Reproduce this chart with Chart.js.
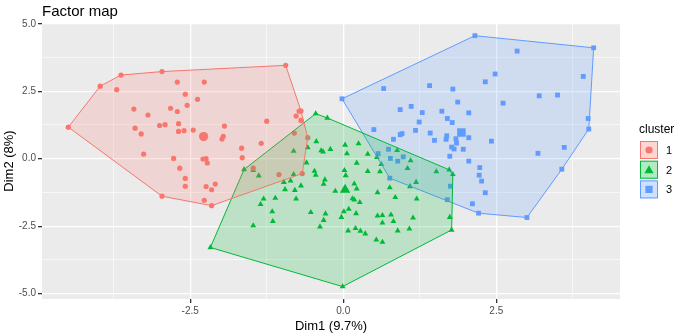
<!DOCTYPE html>
<html lang="en">
<head>
<meta charset="UTF-8">
<title>Factor map</title>
<script src="https://cdn.jsdelivr.net/npm/chart.js"></script>
<style>
  html, body { margin: 0; padding: 0; background: #fff; }
</style>
</head>
<body>
<canvas id="factorMap" width="680" height="336"></canvas>
<script>
  // cluster labels and ggplot default hues
  const clusterNames = ['1', '2', '3'];
  const clusterColors = ['#F8766D', '#00BA38', '#619CFF'];
  const clusterShapes = ['circle', 'triangle', 'rect'];

  // individuals, [Dim1, Dim2]
  const cluster1 = [
    [-4.49, 1.17], [-3.97, 2.69], [-3.63, 3.10], [-2.96, 3.23], [-3.70, 2.56], [-2.71, 2.84],
    [-2.27, 2.84], [-2.58, 2.39], [-2.38, 2.20], [-2.55, 1.98], [-3.42, 1.84], [-3.19, 1.62],
    [-2.82, 1.87], [-2.71, 1.75], [-3.40, 1.13], [-3.30, 0.92], [-3.00, 1.23], [-2.91, 1.26],
    [-2.69, 1.30], [-2.69, 1.01], [-2.60, 1.04], [-2.45, 1.06], [-1.94, 1.21], [-1.96, 0.83],
    [-1.98, 0.73], [-3.26, 0.17], [-2.77, 0.01], [-2.29, -0.01], [-2.24, 0.00], [-2.22, -0.16],
    [-2.67, -0.35], [-2.58, -0.73], [-2.58, -1.02], [-2.24, -1.03], [-2.15, -1.15], [-2.09, -0.94],
    [-2.96, -1.39], [-2.27, -1.54], [-2.15, -1.74], [-0.94, 3.46], [-1.25, 1.39], [-0.72, 1.76],
    [-0.69, 1.77], [-0.77, 1.58], [-0.69, 1.42], [-1.34, 0.57], [-0.80, 0.95], [-0.58, 0.78],
    [-1.66, 0.39], [-1.65, 0.04], [-1.47, -0.35], [-1.05, -0.59], [-0.67, -0.55]
  ];
  const cluster2 = [
    [-0.45, 1.67], [-0.26, 1.51], [-0.44, 0.64], [-0.58, 0.41], [-0.81, 0.28], [-0.36, 0.30],
    [-0.33, 0.26], [-0.21, 0.35], [-0.60, -0.15], [-0.47, -0.46], [-0.45, -0.61], [-0.30, -0.78],
    [-0.32, -0.94], [-0.13, -1.20], [-0.81, -0.58], [-1.62, -0.40], [-1.47, -0.43], [-1.38, -0.63],
    [-0.97, -0.87], [-0.86, -0.82], [-0.69, -1.00], [-0.95, -1.14], [-0.79, -1.17], [-1.30, -1.49],
    [-1.11, -1.46], [-0.77, -1.49], [-1.35, -1.69], [-1.16, -1.96], [-0.53, -1.99], [-0.29, -2.04],
    [-1.15, -2.32], [-0.32, -2.28], [-1.47, -2.48], [-0.38, -2.52], [-2.17, -3.29], [0.03, 0.51],
    [0.25, 0.56], [0.06, 0.19], [0.40, 0.17], [0.55, 0.05], [0.22, -0.16], [0.62, -0.21],
    [0.40, -0.47], [0.60, -0.48], [0.02, -0.43], [0.04, -0.62], [0.18, -0.93], [0.22, -1.12],
    [0.15, -1.48], [0.18, -1.52], [0.27, -1.62], [0.09, -1.87], [0.01, -1.96], [-0.03, -2.17],
    [0.21, -2.03], [0.08, -2.67], [0.20, -2.58], [0.28, -2.68], [0.36, -2.78], [0.54, -3.01],
    [0.64, -3.09], [0.56, -2.12], [0.64, -2.10], [0.78, -2.08], [0.64, -2.38], [0.82, -2.32],
    [0.89, -2.67], [1.08, -2.60], [1.14, -2.19], [0.56, -1.25], [0.76, -1.07], [0.85, -1.43],
    [1.20, -1.49], [1.10, -0.07], [1.05, -0.36], [1.19, -0.87], [1.09, -1.03], [1.52, -0.48],
    [1.73, -0.41], [1.79, -0.58], [1.74, -2.17], [1.77, -2.64], [-0.01, -4.74], [0.88, 0.31]
  ];
  const cluster3 = [
    [-0.02, 2.22], [0.66, 2.60], [1.41, 2.71], [1.79, 2.58], [1.87, 2.10], [0.93, 1.82],
    [1.11, 1.94], [1.29, 1.71], [1.61, 1.76], [1.70, 1.49], [1.78, 1.34], [1.24, 1.36],
    [2.05, 1.70], [0.50, 1.08], [1.18, 1.05], [1.42, 0.95], [0.93, 0.89], [0.96, 0.93],
    [0.82, 0.72], [1.49, 0.68], [1.69, 0.85], [1.68, 0.72], [1.84, 0.74], [1.85, 0.58],
    [2.05, 0.78], [1.77, 0.43], [1.81, 0.36], [1.96, 0.35], [1.74, 0.09], [2.05, -0.09],
    [0.74, 0.35], [0.57, 0.19], [0.77, 0.01], [0.98, 0.07], [0.89, -0.09], [0.76, -0.72],
    [1.75, -1.02], [1.70, -1.52], [2.15, 4.56], [4.09, 4.11], [2.84, 3.99], [2.48, 3.14],
    [2.32, 2.85], [3.92, 3.05], [3.20, 2.33], [3.50, 2.36], [2.61, 2.06], [4.00, 1.49],
    [4.01, 1.10], [2.42, 0.65], [3.61, 0.42], [3.18, 0.20], [2.23, -0.33], [2.22, -0.61],
    [2.26, -0.83], [2.32, -1.26], [3.57, -0.39], [2.11, -1.67], [2.21, -2.02], [3.00, -2.18]
  ];
  const clusterCenters = [[-2.28, 0.82], [0.03, -1.15], [1.93, 0.97]];

  const xMajorTicks = [-2.5, 0, 2.5];
  const yMajorTicks = [-5, -2.5, 0, 2.5, 5];
  const xRange = [-4.92, 4.52];
  const yRange = [-5.2, 5.03];

  const clusters = [cluster1, cluster2, cluster3];

  function hexAlpha(hex, a) {
    const n = parseInt(hex.slice(1), 16);
    return 'rgba(' + (n >> 16) + ',' + ((n >> 8) & 255) + ',' + (n & 255) + ',' + a + ')';
  }

  // convex hull (monotone chain), closed
  function chull(pts) {
    const p = pts.slice().sort((a, b) => a[0] - b[0] || a[1] - b[1]);
    const cross = (o, a, b) => (a[0] - o[0]) * (b[1] - o[1]) - (a[1] - o[1]) * (b[0] - o[0]);
    const lower = [], upper = [];
    for (const q of p) {
      while (lower.length >= 2 && cross(lower[lower.length - 2], lower[lower.length - 1], q) <= 0) lower.pop();
      lower.push(q);
    }
    for (const q of p.slice().reverse()) {
      while (upper.length >= 2 && cross(upper[upper.length - 2], upper[upper.length - 1], q) <= 0) upper.pop();
      upper.push(q);
    }
    lower.pop(); upper.pop();
    const h = lower.concat(upper);
    h.push(h[0]);
    return h.map(q => ({x: q[0], y: q[1]}));
  }

  const datasets = [];
  clusters.forEach((pts, i) => {
    datasets.push({
      label: clusterNames[i],
      data: chull(pts),
      showLine: true,
      fill: 'shape',
      backgroundColor: hexAlpha(clusterColors[i], 0.2),
      borderColor: clusterColors[i],
      borderWidth: 1,
      pointRadius: 0,
      tension: 0,
      order: 1 + i
    });
    datasets.push({
      label: clusterNames[i],
      data: pts.map(q => ({x: q[0], y: q[1]})),
      pointStyle: clusterShapes[i],
      pointRadius: i === 0 ? 2.6 : 3.4,
      pointBackgroundColor: clusterColors[i],
      pointBorderWidth: 0,
      pointBorderColor: clusterColors[i],
      order: 10
    });
    datasets.push({
      label: clusterNames[i],
      data: [{x: clusterCenters[i][0], y: clusterCenters[i][1]}],
      pointStyle: clusterShapes[i],
      pointRadius: i === 0 ? 4.6 : 6,
      pointBackgroundColor: clusterColors[i],
      pointBorderWidth: 0,
      pointBorderColor: clusterColors[i],
      order: 9
    });
  });

  const isMajor = (v, list) => list.some(t => Math.abs(t - v) < 1e-6);

  const panelPlugin = {
    id: 'panel',
    beforeDraw(chart) {
      const {ctx, chartArea: a} = chart;
      ctx.save();
      ctx.fillStyle = '#EBEBEB';
      ctx.fillRect(a.left, a.top, a.right - a.left, a.bottom - a.top);
      ctx.restore();
    },
    afterDraw(chart) {
      const {ctx, chartArea: a} = chart;
      ctx.save();
      ctx.fillStyle = '#000';
      ctx.font = '15px "Liberation Sans", Arial, sans-serif';
      ctx.textBaseline = 'alphabetic';
      ctx.fillText('Factor map', a.left, 16);

      // legend
      const lx = a.right + 20, ly = 141;
      ctx.font = '12px "Liberation Sans", Arial, sans-serif';
      ctx.fillText('cluster', lx - 1, 133);
      clusterNames.forEach((name, i) => {
        const y = ly + i * 19.7;
        ctx.fillStyle = '#fff';
        ctx.fillRect(lx, y, 18, 18);
        ctx.fillStyle = hexAlpha(clusterColors[i], 0.3);
        ctx.fillRect(lx, y, 18, 18);
        ctx.strokeStyle = clusterColors[i];
        ctx.lineWidth = 1;
        ctx.strokeRect(lx + 0.5, y + 0.5, 17, 17);
        const cx = lx + 9, cy = y + 9;
        ctx.fillStyle = clusterColors[i];
        ctx.beginPath();
        if (clusterShapes[i] === 'circle') {
          ctx.arc(cx, cy, 3.6, 0, Math.PI * 2);
        } else if (clusterShapes[i] === 'triangle') {
          ctx.moveTo(cx, cy - 4.5);
          ctx.lineTo(cx + 4.6, cy + 3.5);
          ctx.lineTo(cx - 4.6, cy + 3.5);
          ctx.closePath();
        } else {
          ctx.rect(cx - 3.6, cy - 3.6, 7.2, 7.2);
        }
        ctx.fill();
        ctx.fillStyle = '#000';
        ctx.font = '11px "Liberation Sans", Arial, sans-serif';
        ctx.fillText(name, lx + 26, cy + 4);
      });
      ctx.restore();
    }
  };

  Chart.defaults.font.family = '"Liberation Sans", Arial, sans-serif';

  new Chart(document.getElementById('factorMap').getContext('2d'), {
    type: 'scatter',
    data: {datasets: datasets},
    options: {
      responsive: false,
      animation: false,
      events: [],
      layout: {padding: {left: 0, right: 60, top: 23, bottom: 0}},
      plugins: {legend: {display: false}, tooltip: {enabled: false}},
      scales: {
        x: {
          type: 'linear',
          min: xRange[0],
          max: xRange[1],
          afterFit(s) { s.height = 37; },
          border: {display: false},
          grid: {
            color: '#FFFFFF',
            lineWidth: c => isMajor(c.tick.value, xMajorTicks) ? 1.3 : 0.6,
            tickColor: c => isMajor(c.tick.value, xMajorTicks) ? '#333333' : 'rgba(0,0,0,0)',
            tickLength: 4
          },
          ticks: {
            stepSize: 1.25,
            includeBounds: false,
            autoSkip: false,
            maxRotation: 0,
            padding: 2,
            color: '#4D4D4D',
            font: {size: 10},
            callback: v => isMajor(v, xMajorTicks) ? v.toFixed(1) : ''
          },
          title: {display: true, text: 'Dim1 (9.7%)', color: '#000', font: {size: 13}, padding: {top: 0, bottom: 2}}
        },
        y: {
          type: 'linear',
          min: yRange[0],
          max: yRange[1],
          afterFit(s) { s.width = 42; },
          border: {display: false},
          grid: {
            color: '#FFFFFF',
            lineWidth: c => isMajor(c.tick.value, yMajorTicks) ? 1.3 : 0.6,
            tickColor: c => isMajor(c.tick.value, yMajorTicks) ? '#333333' : 'rgba(0,0,0,0)',
            tickLength: 4
          },
          ticks: {
            stepSize: 1.25,
            includeBounds: false,
            autoSkip: false,
            padding: 2,
            color: '#4D4D4D',
            font: {size: 10},
            callback: v => isMajor(v, yMajorTicks) ? v.toFixed(1) : ''
          },
          title: {display: true, text: 'Dim2 (8%)', color: '#000', font: {size: 13}, padding: {top: 2, bottom: 0}}
        }
      }
    },
    plugins: [panelPlugin]
  });
</script>
</body>
</html>
